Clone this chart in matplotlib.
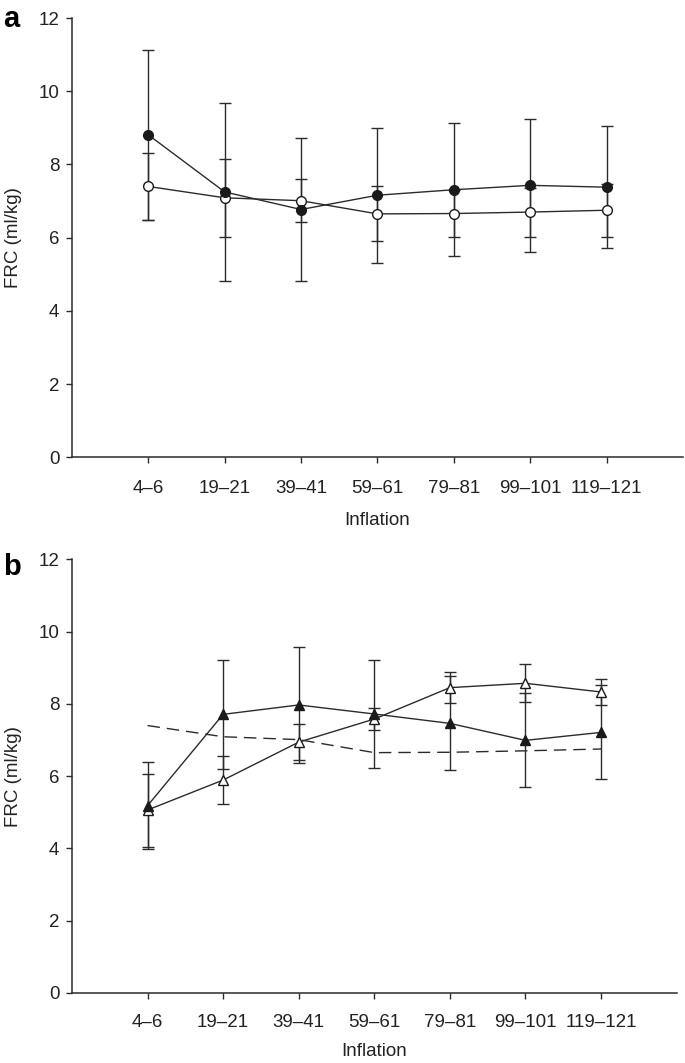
import matplotlib
matplotlib.use("Agg")
import matplotlib.pyplot as plt

plt.rcParams['font.family'] = ['Liberation Sans', 'DejaVu Sans']

inflations = ['4–6', '19–21', '39–41', '59–61', '79–81', '99–101', '119–121']

# panel a
filled_circle_mean = [8.81, 7.25, 6.77, 7.16, 7.31, 7.43, 7.38]
filled_circle_sd = [2.33, 2.43, 1.95, 1.85, 1.81, 1.81, 1.67]
open_circle_mean = [7.40, 7.09, 7.01, 6.65, 6.66, 6.70, 6.75]
open_circle_sd = [0.91, 1.07, 0.58, 0.75, 0.63, 0.67, 0.72]

# panel b
filled_tri_mean = [5.18, 7.71, 7.97, 7.72, 7.46, 6.99, 7.21]
filled_tri_sd = [1.20, 1.50, 1.60, 1.50, 1.30, 1.30, 1.30]
open_tri_mean = [5.06, 5.89, 6.94, 7.58, 8.45, 8.57, 8.33]
open_tri_sd = [1.01, 0.66, 0.50, 0.31, 0.42, 0.53, 0.36]

ink = '#2b2b2b'
txt = '#222222'
fs = 13.5
pos = list(range(1, len(inflations) + 1))

fig = plt.figure(figsize=(6.85, 10.63), dpi=100)
axa = fig.add_axes([0.105, 0.5698, 0.892, 0.4132])
axb = fig.add_axes([0.105, 0.0661, 0.8828, 0.4076])


def style(ax, xpad, lpad):
    ax.set_xlim(0, 8)
    ax.set_ylim(0, 12)
    ax.set_yticks(range(0, 13, 2))
    ax.set_xticks(pos)
    ax.set_xticklabels(inflations)
    for s in ['top', 'right']:
        ax.spines[s].set_visible(False)
    for s in ['left', 'bottom']:
        ax.spines[s].set_color(ink)
        ax.spines[s].set_linewidth(1.1)
    ax.tick_params(axis='y', length=4, width=1, color=ink, labelsize=fs,
                   pad=5, labelcolor=txt)
    ax.tick_params(axis='x', length=4, width=1, color=ink, labelsize=fs,
                   pad=xpad, labelcolor=txt)
    ax.set_ylabel('FRC (ml/kg)', fontsize=fs, labelpad=12, color=txt)
    ax.set_xlabel('Inflation', fontsize=fs, labelpad=lpad, color=txt)


def series(ax, mean, sd, marker, face, ms, ls='-'):
    ax.errorbar(pos, mean, yerr=sd, fmt='none', ecolor=ink, elinewidth=1,
                capsize=4.5, capthick=1, zorder=2)
    ax.plot(pos, mean, ls=ls, color=ink, lw=1, marker=marker, ms=ms,
            mfc=face, mec='#1a1a1a', mew=1, zorder=3)


series(axa, open_circle_mean, open_circle_sd, 'o', 'white', 7)
series(axa, filled_circle_mean, filled_circle_sd, 'o', '#1a1a1a', 7)
style(axa, 12.5, 10.5)

axb.plot(pos, open_circle_mean, ls=(0, (9, 5)), color=ink, lw=1, zorder=2)
series(axb, open_tri_mean, open_tri_sd, '^', 'white', 7.5)
series(axb, filled_tri_mean, filled_tri_sd, '^', '#1a1a1a', 7.5)
style(axb, 11, 9)

fig.text(0.004, 0.9746, 'a', fontsize=21, fontweight='bold', va='baseline')
fig.text(0.004, 0.459, 'b', fontsize=21, fontweight='bold', va='baseline')

fig.savefig('out.png', dpi=100)
